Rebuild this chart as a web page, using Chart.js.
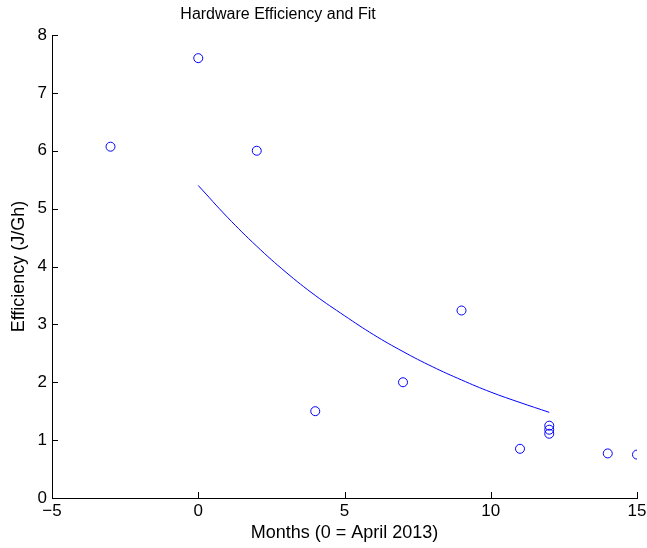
<!DOCTYPE html>
<html>
<head>
<meta charset="utf-8">
<script src="https://cdn.jsdelivr.net/npm/chart.js@4"></script>
<style>
  body { margin: 0; background: #fff; }
  canvas { display: block; }
</style>
</head>
<body>
<canvas id="effChart" width="647" height="548"></canvas>
<script>
// hardware data points (months since April 2013, J/Gh)
const months = [-3, 0, 2, 4, 7, 9, 11, 12, 12, 12, 14, 15];
const efficiency = [6.07, 7.6, 6.0, 1.5, 2.0, 3.24, 0.85, 1.25, 1.18, 1.11, 0.77, 0.75];

// fit curve
const fitMonths = [0, 1, 2, 3, 4, 5, 6, 7, 8, 9, 10, 11, 12];
const fitValues = [5.40, 4.85, 4.35, 3.90, 3.50, 3.15, 2.82, 2.53, 2.27, 2.04, 1.83, 1.65, 1.48];

const xTicks = [-5, 0, 5, 10, 15];
const yTicks = [0, 1, 2, 3, 4, 5, 6, 7, 8];

const chartTitle = 'Hardware Efficiency and Fit';
const font = "'Liberation Sans', Arial, Helvetica, sans-serif";

// matlab style ticks pointing inwards, plus the title
const innerTicks = {
    id: 'innerTicks',
    afterDraw(chart) {
        const ctx = chart.ctx;
        const x = chart.scales.x, y = chart.scales.y;
        const area = chart.chartArea;
        ctx.save();
        ctx.strokeStyle = '#000';
        ctx.lineWidth = 1;
        ctx.beginPath();
        xTicks.forEach(v => {
            const px = Math.round(x.getPixelForValue(v)) + 0.5;
            ctx.moveTo(px, area.bottom);
            ctx.lineTo(px, area.bottom - 6);
        });
        yTicks.forEach(v => {
            const py = Math.round(y.getPixelForValue(v)) + 0.5;
            ctx.moveTo(area.left, py);
            ctx.lineTo(area.left + 6, py);
        });
        ctx.stroke();

        ctx.fillStyle = '#000';
        ctx.font = '16px ' + font;
        ctx.textAlign = 'center';
        ctx.textBaseline = 'middle';
        ctx.fillText(chartTitle, 278, 15);
        ctx.restore();
    }
};

const points = months.map((m, i) => ({ x: m, y: efficiency[i] }));
const fit = fitMonths.map((m, i) => ({ x: m, y: fitValues[i] }));

new Chart(document.getElementById('effChart'), {
    type: 'scatter',
    data: {
        datasets: [{
            data: points,
            borderColor: '#0000ff',
            backgroundColor: 'rgba(0,0,0,0)',
            borderWidth: 1,
            pointRadius: 4.5,
            pointHoverRadius: 4.5
        }, {
            type: 'line',
            data: fit,
            borderColor: '#0000ff',
            borderWidth: 1,
            pointRadius: 0,
            tension: 0.4,
            fill: false
        }]
    },
    options: {
        responsive: false,
        animation: false,
        layout: { padding: { left: 0, right: 10, top: 35, bottom: 0 } },
        plugins: {
            legend: { display: false },
            tooltip: { enabled: false },
            title: { display: false }
        },
        scales: {
            x: {
                type: 'linear',
                min: -5,
                max: 15,
                afterBuildTicks: s => { s.ticks = xTicks.map(v => ({ value: v })); },
                afterFit: s => { s.height = 50; s.paddingLeft = 0; s.paddingRight = 0; },
                grid: { display: false, drawTicks: false },
                border: { display: true, color: '#000', width: 1 },
                ticks: {
                    color: '#000',
                    padding: 3,
                    font: { family: font, size: 17 },
                    callback: v => v < 0 ? '\u2212' + Math.abs(v) : String(v)
                },
                title: {
                    display: true,
                    text: 'Months (0 = April 2013)',
                    color: '#000',
                    font: { family: font, size: 18 },
                    padding: { top: 4, bottom: 4 }
                }
            },
            y: {
                type: 'linear',
                min: 0,
                max: 8,
                afterBuildTicks: s => { s.ticks = yTicks.map(v => ({ value: v })); },
                afterFit: s => { s.width = 52; s.paddingTop = 0; s.paddingBottom = 0; },
                grid: { display: false, drawTicks: false },
                border: { display: true, color: '#000', width: 1 },
                ticks: {
                    color: '#000',
                    padding: 5,
                    font: { family: font, size: 17 }
                },
                title: {
                    display: true,
                    text: 'Efficiency (J/Gh)',
                    color: '#000',
                    font: { family: font, size: 18 },
                    padding: { top: 8, bottom: 8 }
                }
            }
        }
    },
    plugins: [innerTicks]
});
</script>
</body>
</html>
